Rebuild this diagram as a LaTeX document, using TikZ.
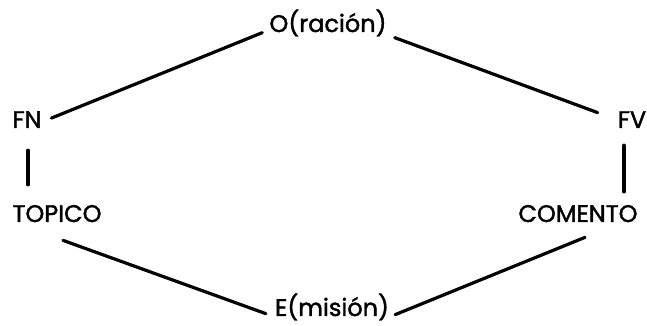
\documentclass[tikz,border=0pt]{standalone}
\usepackage{fontspec}
\setmainfont{Poppins}[FakeBold=1.6]
\usetikzlibrary{positioning,calc}
\tikzset{
  term/.style={font=\fontsize{24}{26}\selectfont, inner sep=6pt, anchor=base},
  link/.style={line width=3.2pt, line cap=round},
}

\begin{document}
\begin{tikzpicture}[x=1pt, y=1pt]
\useasboundingbox (0,0) rectangle (647,326);

\node[term] (ora) at (328,294) {O(ración)};
\node[term] (fn)  at (27,198)  {FN};
\node[term] (fv)  at (632,198) {FV};
\node[term] (top) at (57,104)  {TOPICO};
\node[term] (com) at (578,104) {COMENTO};
\node[term] (emi) at (332,10)  {E(misión)};

% end points just clear of the words
\coordinate (oraL) at ($(ora.south west)+(-1,10)$);
\coordinate (oraR) at ($(ora.south east)+(2,5)$);
\coordinate (fnV)  at ($(fn.south)+(1,-16)$);
\coordinate (fvV)  at ($(fv.south)+(-8,-11)$);
\coordinate (emiL) at ($(emi.south west)+(-3,13)$);
\coordinate (emiR) at ($(emi.south east)+(0,12)$);

% upper half
\draw[link, shorten >=4pt] (oraL) -- (fn.east);
\draw[link] (oraR) -- ($(fv.west)+(-14,7)$);
\draw[link] (fnV) -- ($(fnV |- top.north)+(0,14)$);
\draw[link] (fvV) -- ($(fvV |- com.north)+(0,7)$);

% lower half
\draw[link] ($(top.south)+(6,-12)$) -- (emiL);
\draw[link] ($(com.south)+(7,-9)$) -- (emiR);
\end{tikzpicture}
\end{document}
